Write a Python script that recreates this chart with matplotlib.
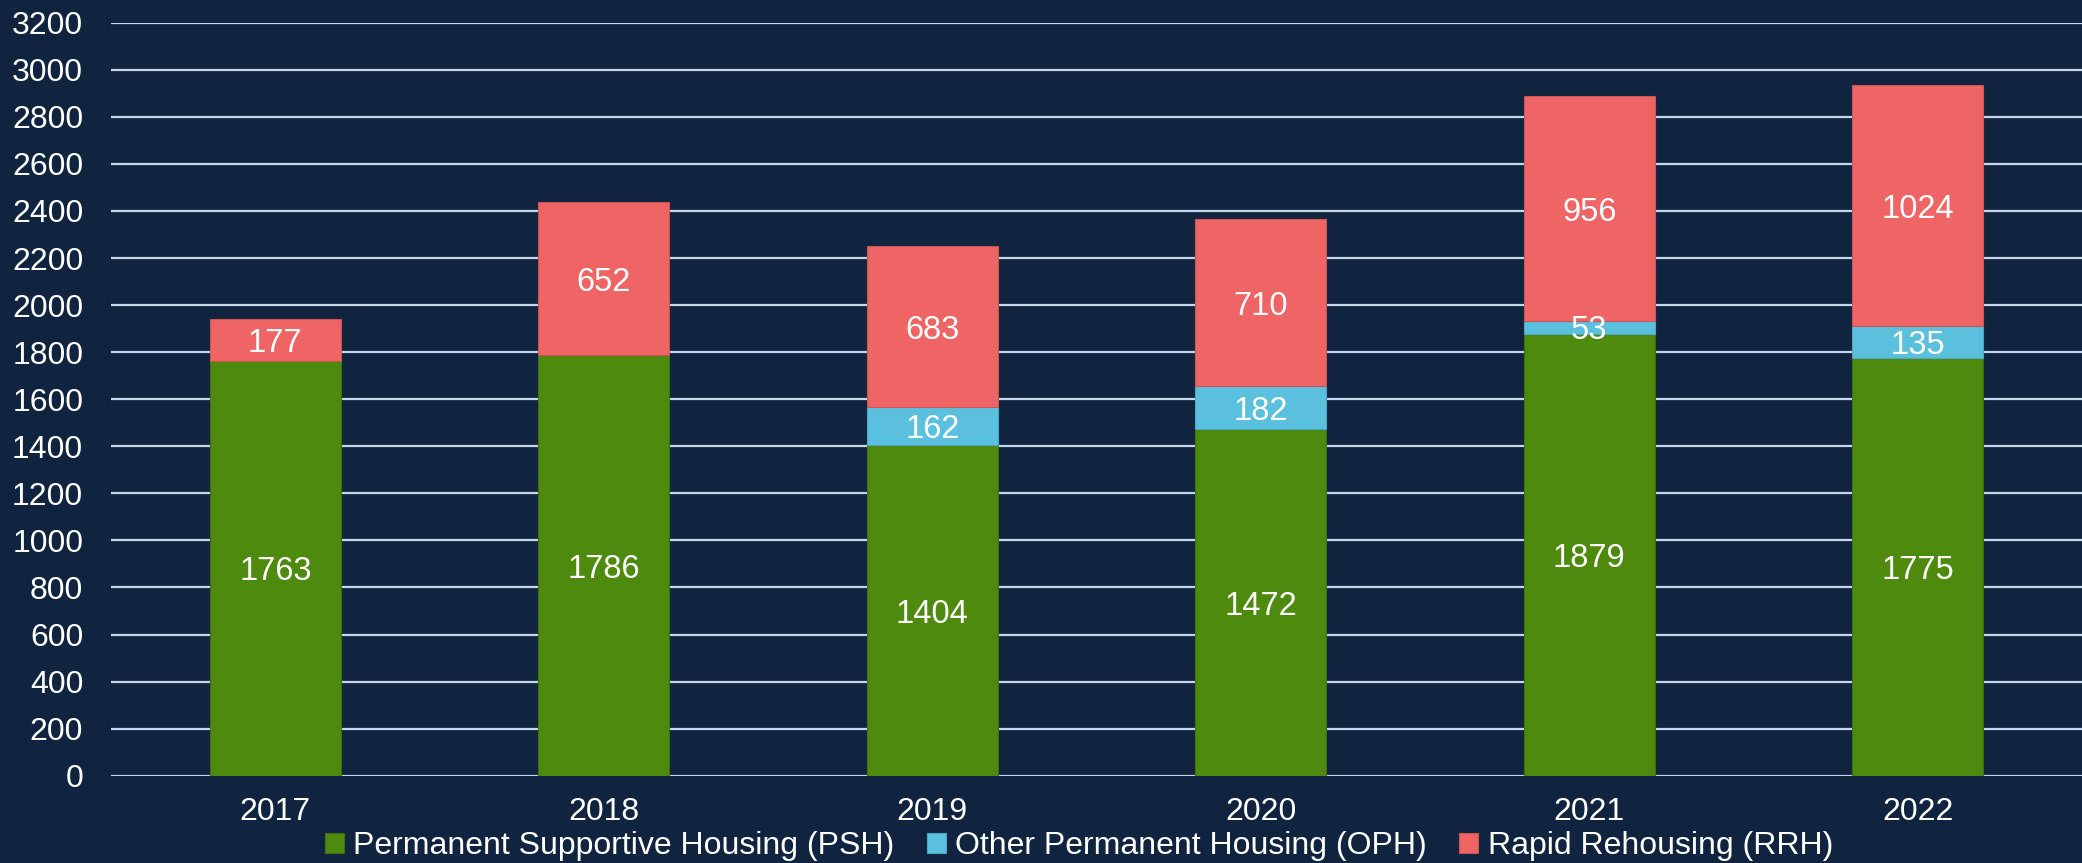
import matplotlib
matplotlib.use("Agg")
import matplotlib.pyplot as plt
import numpy as np

years = ["2017", "2018", "2019", "2020", "2021", "2022"]
psh = [1763, 1786, 1404, 1472, 1879, 1775]
oph = [0, 0, 162, 182, 53, 135]
rrh = [177, 652, 683, 710, 956, 1024]
series_names = ["Permanent Supportive Housing (PSH)",
                "Other Permanent Housing (OPH)",
                "Rapid Rehousing (RRH)"]
y_ticks = list(range(0, 3201, 200))

BG = "#10243F"
colors = ["#4E8A0E", "#5BC0DE", "#EF6464"]
edges = ["#3F6F10", "#4AA6C2", "#C95555"]
GRID = "#C8D6EC"

plt.rcParams['font.family'] = ['Liberation Sans', 'DejaVu Sans']

fig = plt.figure(figsize=(20.82, 8.63), dpi=100, facecolor=BG)
ax = fig.add_axes([111 / 2082, 1 - 775.7 / 863, 1 - 111 / 2082, (775.7 - 22.7) / 863])
ax.set_facecolor(BG)

x = np.arange(len(years))
w = 0.4
bottom = np.zeros(len(years))
for vals, c, ec, name in zip([psh, oph, rrh], colors, edges, series_names):
    vals = np.array(vals, dtype=float)
    ax.bar(x, vals, w, bottom=bottom, color=c, edgecolor=ec, linewidth=0.8,
           label=name, zorder=3)
    for xi, v, b in zip(x, vals, bottom):
        if v > 0:
            ax.text(xi, b + v / 2, f"{int(v)}", ha="center", va="center_baseline",
                    color="white", fontsize=23.5, zorder=4)
    bottom += vals

ax.set_xlim(-0.5, 5.5)
ax.set_ylim(0, 3200)
ax.set_yticks(y_ticks)
ax.set_yticklabels([str(t) for t in y_ticks])
ax.set_xticks(x)
ax.set_xticklabels(years)
ax.tick_params(axis="both", colors="white", labelsize=23, length=0)
ax.tick_params(axis="y", pad=20)
ax.tick_params(axis="x", pad=15)
ax.grid(axis="y", color=GRID, linewidth=1.6, zorder=0)
ax.set_axisbelow(True)
for s in ax.spines.values():
    s.set_visible(False)

fig.legend(loc="center", bbox_to_anchor=(1079 / 2082, 1 - 846 / 863), ncol=3,
           frameon=False, fontsize=23, labelcolor="white",
           handlelength=0.6, handleheight=0.6, handletextpad=0.3,
           columnspacing=1.0, borderaxespad=0)

fig.savefig("out.png", dpi=100, facecolor=BG)
